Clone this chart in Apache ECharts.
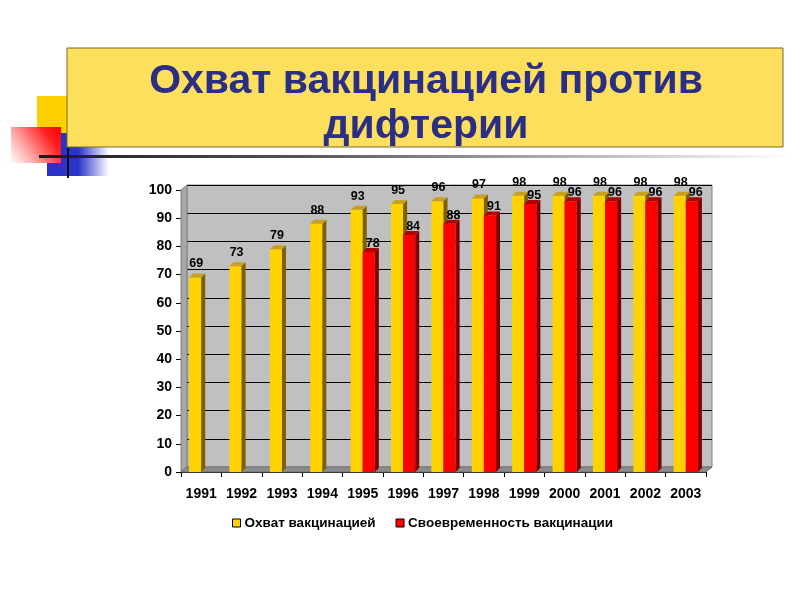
<!DOCTYPE html>
<html><head><meta charset="utf-8">
<script src="https://cdn.jsdelivr.net/npm/echarts@6/dist/echarts.min.js"></script>
<style>html,body{margin:0;padding:0;background:#fff}#c{width:800px;height:600px}</style>
</head><body><div id="c"></div>
<script>
const years = ['1991','1992','1993','1994','1995','1996','1997','1998','1999','2000','2001','2002','2003'];
const coverage = [69,73,79,88,93,95,96,97,98,98,98,98,98];
const timeliness = [null,null,null,null,78,84,88,91,95,96,96,96,96];
const yTicks = {min:0, max:100, interval:10};
const titleText = 'Охват вакцинацией против\nдифтерии';
const seriesNames = ['Охват вакцинацией','Своевременность вакцинации'];

const FONT = "'Liberation Sans', Arial, sans-serif";
// layout
const G = {left:181, right:94, top:190, bottom:128};
const D = {dx:6, dy:5};
const W = 800, H = 600;
const gx0 = G.left, gx1 = W - G.right, gy0 = G.top, gy1 = H - G.bottom;

function bar3d(colors, side, labelDx, labelGap){
  return function(params, api){
    const v = api.value(1);
    if (v == null || isNaN(v)) return;
    const idx = api.value(0);
    const base = api.coord([idx, 0]);
    const tp = api.coord([idx, v]);
    const band = api.size([1,0])[0];
    const w = band*0.3;
    const c = base[0];
    const x0 = side === 0 ? c - w : c;
    const x1 = x0 + w;
    const yt = tp[1], yb = base[1];
    const d = 4;
    return {type:'group', children:[
      {type:'rect', shape:{x:x0, y:yt, width:w, height:yb-yt}, style:{fill:colors[0]}},
      {type:'polygon', shape:{points:[[x1,yt],[x1+d,yt-d],[x1+d,yb-d],[x1,yb]]}, style:{fill:colors[1]}},
      {type:'polygon', shape:{points:[[x0,yt],[x0+d,yt-d],[x1+d,yt-d],[x1,yt]]}, style:{fill:colors[2]}},
      {type:'text', x:c+labelDx, y:yt-d-labelGap, style:{text:String(v), fill:'#000', font:'bold 12.5px '+FONT, align:'center', verticalAlign:'bottom'}}
    ]};
  };
}

const chart = echarts.init(document.getElementById('c'), null, {renderer:'canvas'});
const option = {
  backgroundColor:'#fff',
  animation:false,
  grid:[
    {left:G.left, right:G.right, top:G.top, bottom:G.bottom, containLabel:false},
    {left:G.left+D.dx, right:G.right-D.dx, top:G.top-D.dy, bottom:G.bottom+D.dy, show:true, backgroundColor:'#c0c0c0', borderColor:'#808080', borderWidth:1, z:0}
  ],
  xAxis:[
    {type:'category', gridIndex:0, data:years, boundaryGap:true,
     axisLine:{show:true, lineStyle:{color:'#000', width:1}},
     axisTick:{show:true, length:5, interval:0, lineStyle:{color:'#000'}},
     axisLabel:{color:'#000', fontFamily:FONT, fontWeight:'bold', fontSize:14, margin:15, interval:0, hideOverlap:false}},
    {type:'category', gridIndex:1, data:years, show:false}
  ],
  yAxis:[
    {type:'value', gridIndex:0, min:yTicks.min, max:yTicks.max, interval:yTicks.interval,
     axisLine:{show:true, lineStyle:{color:'#000'}},
     axisTick:{show:true, length:5, lineStyle:{color:'#000'}},
     splitLine:{show:false},
     axisLabel:{color:'#000', fontFamily:FONT, fontWeight:'bold', fontSize:14, margin:9}},
    {type:'value', gridIndex:1, min:yTicks.min, max:yTicks.max, interval:yTicks.interval,
     axisLine:{show:false}, axisTick:{show:false}, axisLabel:{show:false},
     splitLine:{show:true, lineStyle:{color:'#000', width:1}}}
  ],
  legend:{
    data:seriesNames, bottom:65, left:227, itemWidth:8, itemHeight:8, itemGap:20,
    icon:'rect', itemStyle:{borderColor:'#000', borderWidth:1},
    textStyle:{color:'#000', fontFamily:FONT, fontWeight:'bold', fontSize:13.5, padding:[0,0,0,-1]}
  },
  graphic:[
    // decorations
    {type:'rect', z:1, shape:{x:37, y:96, width:30, height:37}, style:{fill:'#FFD000'}},
    {type:'rect', z:2, shape:{x:47, y:133, width:62, height:43}, style:{fill:new echarts.graphic.LinearGradient(0,0,1,0,[{offset:0,color:'#2a32c8'},{offset:0.5,color:'#2a32c8'},{offset:1,color:'rgba(42,50,200,0)'}])}},
    {type:'rect', z:3, shape:{x:11, y:127, width:50, height:36}, style:{fill:new echarts.graphic.LinearGradient(1,0,0,1,[{offset:0,color:'#ff0000'},{offset:0.25,color:'#ff2020'},{offset:0.65,color:'#ffa0a0'},{offset:1,color:'#ffffff'}])}},
    {type:'rect', z:4, shape:{x:67, y:48, width:716, height:99}, style:{fill:'#FCDF5C', stroke:'#7a6a20', lineWidth:1}},
    {type:'text', z:5, x:426, y:104, style:{text:titleText, font:'bold 41px '+FONT, fill:'#2b2e85', align:'center', verticalAlign:'middle', lineHeight:45, shadowColor:'rgba(0,0,0,0.35)', shadowBlur:2, shadowOffsetX:1, shadowOffsetY:1}},
    {type:'rect', z:6, shape:{x:39, y:155, width:750, height:3}, style:{fill:new echarts.graphic.LinearGradient(0,0,1,0,[{offset:0,color:'#1a1a1a'},{offset:0.35,color:'#555'},{offset:1,color:'rgba(255,255,255,1)'}])}},
    {type:'rect', z:7, shape:{x:67, y:148, width:2, height:30}, style:{fill:'#111'}},
    // 3D wall sides / floor
    {type:'polygon', z:1, shape:{points:[[gx0,gy0],[gx0+D.dx,gy0-D.dy],[gx0+D.dx,gy1-D.dy],[gx0,gy1]]}, style:{fill:'#a8a8a8', stroke:'#808080', lineWidth:1}},
    {type:'polygon', z:1, shape:{points:[[gx0,gy1],[gx0+D.dx,gy1-D.dy],[gx1+D.dx,gy1-D.dy],[gx1,gy1]]}, style:{fill:'#8c8c8c', stroke:'#707070', lineWidth:1}}
  ],
  series:[
    {name:seriesNames[0], type:'custom', xAxisIndex:0, yAxisIndex:0, z:10,
     itemStyle:{color:'#FFD200'},
     renderItem:bar3d(['#FFD200','#7F6000','#C8A020'],0,-5,3),
     data:coverage.map((v,i)=>[i,v])},
    {name:seriesNames[1], type:'custom', xAxisIndex:0, yAxisIndex:0, z:11,
     itemStyle:{color:'#FF0000'},
     renderItem:bar3d(['#FF0000','#7F0000','#B00000'],1,10,-2),
     data:timeliness.map((v,i)=>[i,v==null?'-':v])}
  ]
};
chart.setOption(option);
</script></body></html>
